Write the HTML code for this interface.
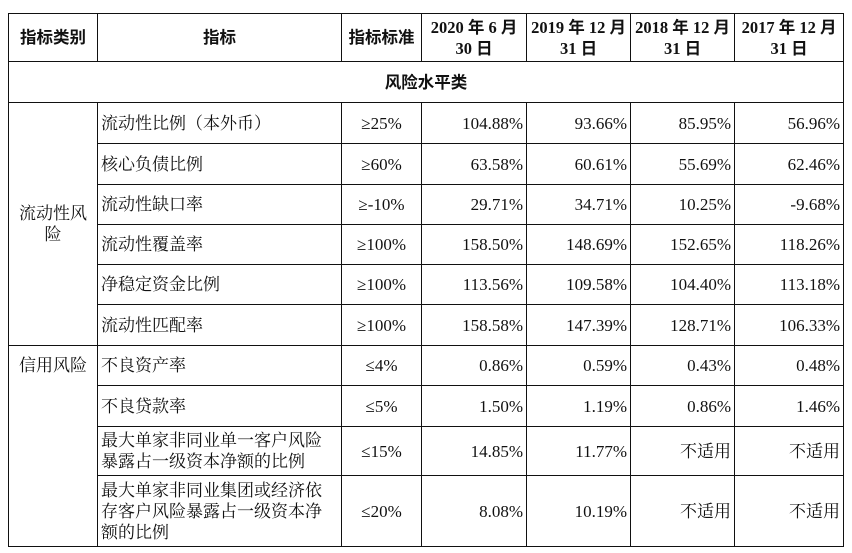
<!DOCTYPE html>
<html><head><meta charset="utf-8"><style>
body{margin:0;background:#fff;width:852px;height:553px;overflow:hidden}
table{position:absolute;left:8px;top:13px;border-collapse:collapse;table-layout:fixed;font-family:"Liberation Serif","Noto Serif CJK SC",serif;font-size:17px;color:#111}
td{border:1px solid #111;padding:0 3px;line-height:21px;white-space:nowrap}
.h td{font-weight:bold;text-align:center;font-family:"Liberation Serif","Noto Sans CJK SC",serif;font-size:16.5px}
.r{text-align:right}.c{text-align:center}
</style></head><body>
<table>
<colgroup><col style="width:89px"><col style="width:244px"><col style="width:80px"><col style="width:105px"><col style="width:104px"><col style="width:104px"><col style="width:109px"></colgroup>
<tr class="h" style="height:48px">
<td>指标类别</td><td>指标</td><td>指标标准</td><td>2020 年 6 月<br>30 日</td><td>2019 年 12 月<br>31 日</td><td>2018 年 12 月<br>31 日</td><td>2017 年 12 月<br>31 日</td></tr>
<tr class="h" style="height:41px"><td colspan="7">风险水平类</td></tr>
<tr style="height:41px"><td rowspan="6" class="c">流动性风<br>险</td><td>流动性比例（本外币）</td><td class="c">≥25%</td><td class="r">104.88%</td><td class="r">93.66%</td><td class="r">85.95%</td><td class="r">56.96%</td></tr>
<tr style="height:41px"><td>核心负债比例</td><td class="c">≥60%</td><td class="r">63.58%</td><td class="r">60.61%</td><td class="r">55.69%</td><td class="r">62.46%</td></tr>
<tr style="height:40px"><td>流动性缺口率</td><td class="c">≥-10%</td><td class="r">29.71%</td><td class="r">34.71%</td><td class="r">10.25%</td><td class="r">-9.68%</td></tr>
<tr style="height:40px"><td>流动性覆盖率</td><td class="c">≥100%</td><td class="r">158.50%</td><td class="r">148.69%</td><td class="r">152.65%</td><td class="r">118.26%</td></tr>
<tr style="height:40px"><td>净稳定资金比例</td><td class="c">≥100%</td><td class="r">113.56%</td><td class="r">109.58%</td><td class="r">104.40%</td><td class="r">113.18%</td></tr>
<tr style="height:41px"><td>流动性匹配率</td><td class="c">≥100%</td><td class="r">158.58%</td><td class="r">147.39%</td><td class="r">128.71%</td><td class="r">106.33%</td></tr>
<tr style="height:40px"><td rowspan="4" class="c" style="vertical-align:top;padding-top:9px">信用风险</td><td>不良资产率</td><td class="c">≤4%</td><td class="r">0.86%</td><td class="r">0.59%</td><td class="r">0.43%</td><td class="r">0.48%</td></tr>
<tr style="height:41px"><td>不良贷款率</td><td class="c">≤5%</td><td class="r">1.50%</td><td class="r">1.19%</td><td class="r">0.86%</td><td class="r">1.46%</td></tr>
<tr style="height:49px"><td>最大单家非同业单一客户风险<br>暴露占一级资本净额的比例</td><td class="c">≤15%</td><td class="r">14.85%</td><td class="r">11.77%</td><td class="r">不适用</td><td class="r">不适用</td></tr>
<tr style="height:71px"><td>最大单家非同业集团或经济依<br>存客户风险暴露占一级资本净<br>额的比例</td><td class="c">≤20%</td><td class="r">8.08%</td><td class="r">10.19%</td><td class="r">不适用</td><td class="r">不适用</td></tr>
</table>
</body></html>
